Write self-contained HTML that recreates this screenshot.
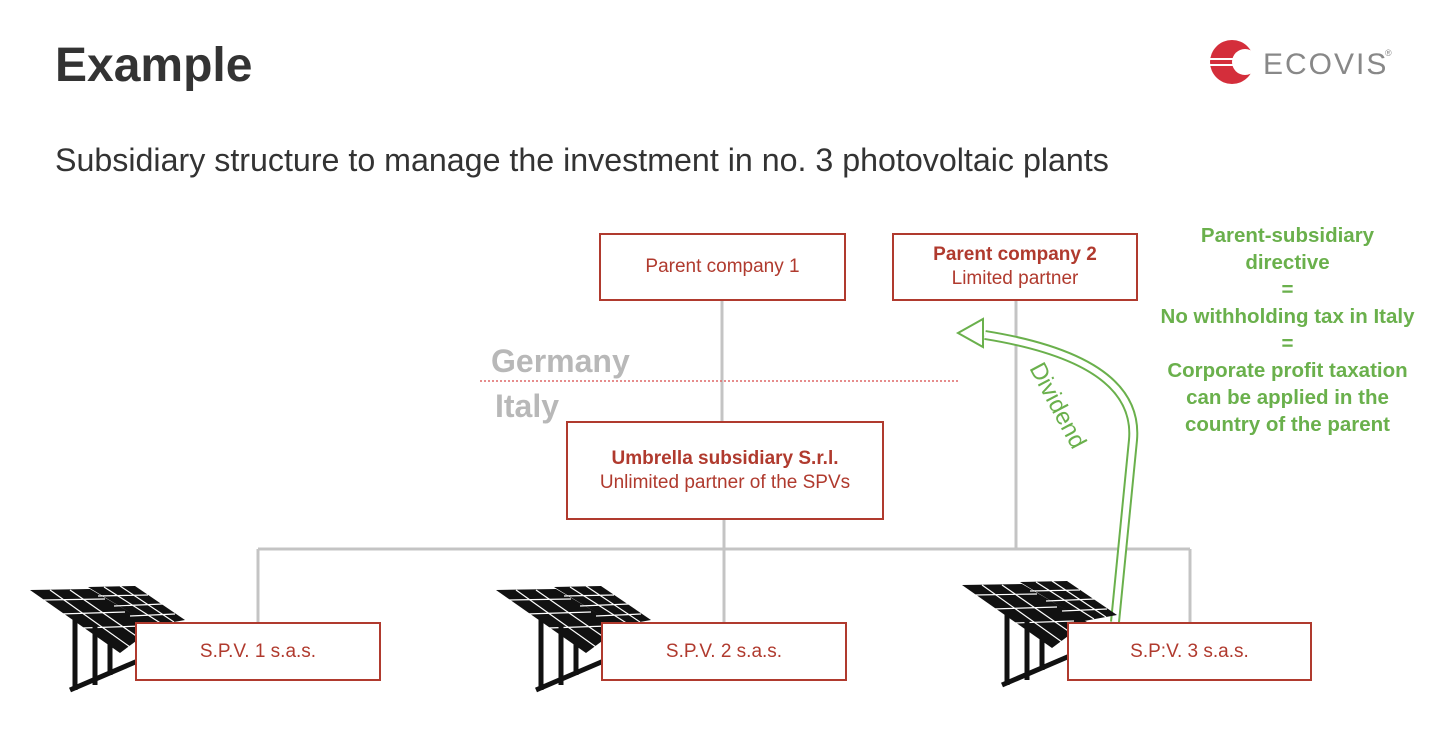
<!DOCTYPE html>
<html><head><style>
body{margin:0;width:1448px;height:735px;background:#fff;overflow:hidden;font-family:"Liberation Sans",sans-serif;position:relative}
.t{position:absolute}
.box{position:absolute;border:2px solid #b03a2e;background:#fff;box-sizing:border-box;display:flex;flex-direction:column;align-items:center;justify-content:center;color:#b03a2e;font-size:19px;line-height:24px;text-align:center}
b{font-weight:bold}
</style></head><body>
<div class="t" style="left:55px;top:38px;font-size:48px;font-weight:bold;color:#333">Example</div>
<div class="t" style="left:55px;top:142px;font-size:32.2px;color:#333">Subsidiary structure to manage the investment in no. 3 photovoltaic plants</div>
<svg class="t" style="left:1205px;top:38px" width="200" height="50">
<circle cx="27" cy="24" r="22" fill="#d42e3b"/><circle cx="40" cy="24" r="13" fill="#fff"/>
<rect x="3" y="20" width="45" height="2" fill="#fff"/><rect x="3" y="26" width="45" height="2" fill="#fff"/>
<text x="58" y="36" font-family="Liberation Sans" font-size="30" fill="#888" letter-spacing="2">ECOVIS</text>
<text x="180" y="18" font-size="9" fill="#888">®</text>
</svg>
<svg class="t" style="left:0;top:0" width="1448" height="735">
<g stroke="#c4c4c4" stroke-width="3" fill="none">
<line x1="722" y1="300" x2="722" y2="421"/><line x1="724" y1="519" x2="724" y2="549"/>
<line x1="258" y1="549" x2="1190" y2="549"/>
<line x1="258" y1="549" x2="258" y2="622"/><line x1="724" y1="549" x2="724" y2="622"/><line x1="1190" y1="549" x2="1190" y2="622"/>
<line x1="1016" y1="300" x2="1016" y2="549"/>
</g>
<line x1="480" y1="381" x2="960" y2="381" stroke="#d66" stroke-width="1.5" stroke-dasharray="2,2"/>
<text x="491" y="372" font-size="32" font-weight="bold" fill="#b8b8b8">Germany</text>
<text x="495" y="417" font-size="32" font-weight="bold" fill="#b8b8b8">Italy</text>
<path d="M1115 622 L1133 440 Q1140 360 985 335" stroke="#6ab04c" stroke-width="10" fill="none"/>
<path d="M1115 622 L1133 440 Q1140 360 985 335" stroke="#fff" stroke-width="6" fill="none"/>
<path d="M958 333 L983 319 L983 347 Z" fill="#fff" stroke="#6ab04c" stroke-width="2"/>
<text transform="translate(1029,368) rotate(62)" font-size="24" fill="#6ab04c">Dividend</text>
<defs><g id="sp">
<polygon points="0,0 60,-1 125,37 90,63" fill="#111"/>
<polygon points="58,-3 105,-4 155,30 122,36" fill="#111"/>
<g stroke="#fff" stroke-width="1.2"><line x1="20" y1="0" x2="100" y2="57"/><line x1="40" y1="0" x2="112" y2="50"/><line x1="12" y1="10" x2="75" y2="9"/><line x1="30" y1="24" x2="95" y2="22"/><line x1="52" y1="38" x2="112" y2="36"/>
<line x1="74" y1="-3" x2="132" y2="34"/><line x1="90" y1="-4" x2="144" y2="32"/><line x1="68" y1="6" x2="118" y2="5"/><line x1="84" y1="16" x2="133" y2="14"/><line x1="100" y1="26" x2="145" y2="24"/></g>
<g stroke="#111" stroke-width="5"><line x1="45" y1="25" x2="45" y2="100"/><line x1="65" y1="35" x2="65" y2="95"/><line x1="80" y1="45" x2="80" y2="85"/><line x1="40" y1="100" x2="110" y2="70"/></g>
</g></defs>
<use href="#sp" x="30" y="590"/><use href="#sp" x="496" y="590"/><use href="#sp" x="962" y="585"/>
</svg>
<div class="box" style="left:599px;top:233px;width:247px;height:68px">Parent company 1</div>
<div class="box" style="left:892px;top:233px;width:246px;height:68px"><b>Parent company 2</b>Limited partner</div>
<div class="box" style="left:566px;top:421px;width:318px;height:99px"><b>Umbrella subsidiary S.r.l.</b>Unlimited partner of the SPVs</div>
<div class="box" style="left:135px;top:622px;width:246px;height:59px">S.P.V. 1 s.a.s.</div>
<div class="box" style="left:601px;top:622px;width:246px;height:59px">S.P.V. 2 s.a.s.</div>
<div class="box" style="left:1067px;top:622px;width:245px;height:59px">S.P:V. 3 s.a.s.</div>
<div class="t" style="left:1145px;top:222px;width:285px;text-align:center;color:#6ab04c;font-weight:bold;font-size:20.5px;line-height:27px">Parent-subsidiary<br>directive<br>=<br>No withholding tax in Italy<br>=<br>Corporate profit taxation<br>can be applied in the<br>country of the parent</div>
</body></html>
